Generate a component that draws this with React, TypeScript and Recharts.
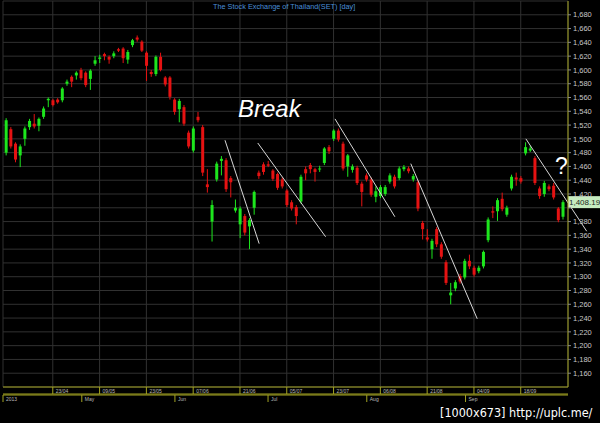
import { Bar, CartesianGrid, ComposedChart, ReferenceLine, XAxis, YAxis } from "recharts";

// SET index, daily candles (Apr - Sep 2013)
const OPEN = [
  1480, 1514, 1493, 1476, 1500, 1517, 1522, 1519, 1532, 1556,
  1556, 1557, 1556, 1580, 1590, 1592, 1600, 1596, 1587, 1609,
  1616, 1623, 1619, 1620, 1630, 1631, 1615, 1636, 1647, 1641,
  1625, 1597, 1594, 1619, 1589, 1589, 1557, 1543, 1546, 1509,
  1483, 1532, 1517, 1434, 1380, 1441, 1468, 1469, 1443, 1396,
  1376, 1388, 1373, 1400, 1451, 1463, 1463, 1454, 1449, 1441,
  1425, 1408, 1401, 1409, 1456, 1462, 1456, 1456, 1465, 1488,
  1500, 1512, 1493, 1460, 1455, 1458, 1435, 1447, 1441, 1416,
  1417, 1420, 1438, 1445, 1443, 1456, 1457, 1441, 1437, 1378,
  1357, 1340, 1369, 1347, 1321, 1273, 1283, 1301, 1299, 1323,
  1313, 1308, 1315, 1353, 1395, 1395, 1413, 1390, 1428, 1444,
  1443, 1479, 1483, 1472, 1428, 1420, 1431, 1432, 1399, 1387,
];
const HIGH = [
  1530, 1517, 1495, 1492, 1518, 1529, 1536, 1531, 1547, 1560,
  1558, 1559, 1575, 1586, 1592, 1598, 1603, 1598, 1601, 1620,
  1622, 1625, 1621, 1627, 1632, 1633, 1629, 1645, 1650, 1643,
  1627, 1600, 1621, 1625, 1591, 1591, 1559, 1558, 1549, 1512,
  1518, 1539, 1520, 1456, 1411, 1467, 1475, 1472, 1446, 1412,
  1402, 1391, 1385, 1425, 1454, 1466, 1468, 1456, 1451, 1444,
  1427, 1411, 1404, 1448, 1460, 1465, 1458, 1461, 1488, 1491,
  1514, 1515, 1496, 1478, 1463, 1461, 1438, 1450, 1444, 1431,
  1433, 1433, 1450, 1448, 1460, 1462, 1460, 1449, 1440, 1381,
  1369, 1355, 1372, 1350, 1324, 1291, 1295, 1304, 1326, 1332,
  1316, 1316, 1338, 1386, 1402, 1414, 1422, 1403, 1448, 1451,
  1446, 1495, 1490, 1475, 1431, 1439, 1434, 1436, 1401, 1411,
];
const LOW = [
  1476, 1486, 1466, 1459, 1490, 1513, 1515, 1511, 1529, 1546,
  1547, 1551, 1553, 1577, 1575, 1586, 1585, 1575, 1571, 1606,
  1610, 1614, 1609, 1617, 1626, 1610, 1609, 1633, 1641, 1626,
  1584, 1590, 1591, 1598, 1576, 1557, 1535, 1524, 1519, 1486,
  1480, 1524, 1446, 1422, 1351, 1438, 1447, 1423, 1415, 1393,
  1356, 1360, 1340, 1390, 1442, 1448, 1459, 1439, 1426, 1428,
  1401, 1396, 1376, 1406, 1440, 1450, 1438, 1452, 1462, 1478,
  1497, 1496, 1454, 1445, 1451, 1433, 1402, 1438, 1416, 1408,
  1414, 1417, 1435, 1428, 1440, 1453, 1450, 1438, 1395, 1354,
  1351, 1326, 1343, 1326, 1288, 1260, 1279, 1290, 1296, 1311,
  1300, 1305, 1312, 1350, 1385, 1381, 1395, 1387, 1425, 1432,
  1435, 1476, 1481, 1433, 1413, 1416, 1424, 1412, 1379, 1383,
];
const CLOSE = [
  1527, 1489, 1470, 1489, 1515, 1526, 1518, 1529, 1544, 1558,
  1549, 1553, 1573, 1583, 1583, 1596, 1588, 1578, 1599, 1614,
  1618, 1620, 1615, 1624, 1628, 1617, 1626, 1643, 1644, 1628,
  1606, 1594, 1619, 1600, 1579, 1561, 1539, 1555, 1522, 1489,
  1515, 1527, 1451, 1430, 1404, 1464, 1471, 1427, 1437, 1400,
  1399, 1364, 1382, 1423, 1446, 1452, 1461, 1442, 1429, 1431,
  1404, 1399, 1388, 1445, 1450, 1456, 1452, 1457, 1486, 1482,
  1512, 1499, 1457, 1476, 1460, 1436, 1423, 1441, 1419, 1424,
  1430, 1430, 1447, 1431, 1457, 1459, 1453, 1446, 1399, 1369,
  1354, 1352, 1347, 1329, 1291, 1277, 1292, 1293, 1323, 1315,
  1303, 1313, 1336, 1383, 1393, 1411, 1398, 1400, 1445, 1441,
  1438, 1488, 1486, 1436, 1417, 1436, 1427, 1415, 1382, 1408.19,
];

const DATE_TICKS = [11, 21, 31, 41, 51, 61, 71, 81, 91, 101, 111];
const DATE_LABELS = ["23/04", "09/05", "23/05", "07/06", "21/06", "05/07", "23/07", "06/08", "21/08", "04/09", "18/09"];
const MONTH_TICKS = [0.36, 17.2, 37.1, 57, 78.1, 99.2];
const MONTH_LABELS = ["2013", "May", "Jun", "Jul", "Aug", "Sep"];
const PRICE_TICKS = [
  1160, 1180, 1200, 1220, 1240, 1260, 1280, 1300, 1320, 1340, 1360, 1380, 1400, 1420,
  1440, 1460, 1480, 1500, 1520, 1540, 1560, 1580, 1600, 1620, 1640, 1660, 1680,
];
const LAST_CLOSE = 1408.19;
// the last-price tag sits on top of this label
const HIDDEN_PRICE_LABEL = 1400;

// hand-drawn trend lines, [candle index, price]
const TREND_LINES = [
  [[47.8, 1498], [55.1, 1348]],
  [[54.8, 1494], [69.3, 1358]],
  [[71.3, 1529], [84.1, 1387]],
  [[87.5, 1464], [101.7, 1239]],
  [[112.1, 1500], [125.1, 1366]],
];

const X_DOMAIN = [0.36, 121.1];
const GREEN = "#1de61d";
const RED = "#e51212";
const AXIS = "#a3a322";
const GRID = "#313131";
const FONT = "'Liberation Sans', Arial, sans-serif";

const data = OPEN.map((o, k) => ({ i: k + 1, o, h: HIGH[k], l: LOW[k], c: CLOSE[k] }));

function Candle(props: any) {
  const { x, y, width, height, payload } = props;
  const { o, h, l, c } = payload;
  const top = Math.min(y, y + height);
  const H = Math.abs(height);
  const span = h - l || 1;
  const py = (v: number) => top + ((h - v) / span) * H;
  const color = c >= o ? GREEN : RED;
  const cx = x + width / 2;
  const b0 = py(Math.max(o, c));
  const b1 = py(Math.min(o, c));
  return (
    <g>
      <line x1={cx} x2={cx} y1={top} y2={top + H} stroke={color} strokeWidth={1} />
      <rect x={x} y={b0} width={width} height={Math.max(1, b1 - b0)} fill={color} />
    </g>
  );
}

function DateTick(props: any) {
  const { x, y, payload } = props;
  const label = DATE_LABELS[DATE_TICKS.indexOf(payload.value)];
  return (
    <g>
      <line x1={x} x2={x} y1={y} y2={y + 7} stroke={AXIS} />
      <text x={x + 3} y={y + 5.5} fontSize={5} fill="#b8b8b8" fontFamily={FONT}>{label}</text>
    </g>
  );
}

function MonthTick(props: any) {
  const { x, y, payload } = props;
  const label = MONTH_LABELS[MONTH_TICKS.indexOf(payload.value)];
  return (
    <g>
      <line x1={x} x2={x} y1={y} y2={y + 7} stroke={AXIS} />
      <text x={x + 3} y={y + 5.5} fontSize={5} fill="#b8b8b8" fontFamily={FONT}>{label}</text>
    </g>
  );
}

function PriceTag(props: any) {
  const vb = props.viewBox || {};
  const left = (vb.x || 0) + (vb.width || 0);
  const yy = vb.y || 0;
  return (
    <g>
      <rect x={left} y={yy - 6} width={32} height={12} fill="#c6ecc0" />
      <text x={left + 1} y={yy + 3} fontSize={8} fill="#1c2a1c" fontFamily={FONT}>1,408.19</text>
    </g>
  );
}

export default function App() {
  return (
    <div style={{ position: "fixed", left: 0, top: 0, width: 600, height: 423, background: "#000", overflow: "hidden" }}>
      <ComposedChart width={600} height={423} data={data} margin={{ top: 1, right: 0, bottom: 21, left: 3 }}>
        <CartesianGrid stroke={GRID} strokeWidth={1} />
        <XAxis
          dataKey="i"
          type="number"
          domain={X_DOMAIN}
          ticks={DATE_TICKS}
          interval={0}
          height={7}
          tickSize={0}
          tickMargin={0}
          axisLine={{ stroke: AXIS }}
          tick={(p: any) => <DateTick {...p} />}
          allowDataOverflow
        />
        <XAxis
          xAxisId="month"
          dataKey="i"
          type="number"
          domain={X_DOMAIN}
          ticks={MONTH_TICKS}
          interval={0}
          height={7}
          tickSize={0}
          tickMargin={0}
          axisLine={{ stroke: AXIS }}
          tick={(p: any) => <MonthTick {...p} />}
          allowDataOverflow
        />
        <XAxis
          xAxisId="base"
          dataKey="i"
          type="number"
          domain={X_DOMAIN}
          height={1}
          tick={false}
          tickLine={false}
          axisLine={{ stroke: AXIS }}
          allowDataOverflow
        />
        <YAxis
          orientation="right"
          domain={[1140, 1700]}
          ticks={PRICE_TICKS}
          interval={0}
          width={32}
          tickSize={3}
          tickMargin={2}
          tickLine={{ stroke: "#8a8a8a" }}
          axisLine={{ stroke: AXIS }}
          tick={{ fill: "#c8c8c8", fontSize: 7.5, fontFamily: FONT }}
          tickFormatter={(v: number) => (v === HIDDEN_PRICE_LABEL ? "" : v.toLocaleString("en-US"))}
          allowDataOverflow
        />
        <Bar dataKey={(d: any) => [d.l, d.h]} barSize={3} shape={(p: any) => <Candle {...p} />} isAnimationActive={false} />
        <ReferenceLine y={LAST_CLOSE} stroke="none" label={(p: any) => <PriceTag {...p} />} />
        {TREND_LINES.map((seg, k) => (
          <ReferenceLine
            key={k}
            segment={[{ x: seg[0][0], y: seg[0][1] }, { x: seg[1][0], y: seg[1][1] }]}
            stroke="#d8d8d8"
            strokeWidth={1}
            ifOverflow="visible"
          />
        ))}
      </ComposedChart>
      <div style={{ position: "absolute", left: 213, top: 2, fontFamily: FONT, fontSize: 7.3, color: "#4a8fd8", whiteSpace: "nowrap" }}>
        The Stock Exchange of Thailand(SET) [day]
      </div>
      <div style={{ position: "absolute", left: 238, top: 97, fontFamily: FONT, fontSize: 24, lineHeight: "24px", fontStyle: "italic", color: "#fff" }}>
        Break
      </div>
      <div style={{ position: "absolute", left: 555, top: 155, fontFamily: FONT, fontSize: 23, lineHeight: "23px", color: "#fff" }}>
        ?
      </div>
      <div style={{ position: "absolute", left: 440, top: 405, fontFamily: "'DejaVu Sans Condensed', 'Liberation Sans Narrow', sans-serif", fontSize: 12.5, lineHeight: "15px", color: "#fff", whiteSpace: "nowrap" }}>
        [1000x673] http://uplc.me/
      </div>
    </div>
  );
}
